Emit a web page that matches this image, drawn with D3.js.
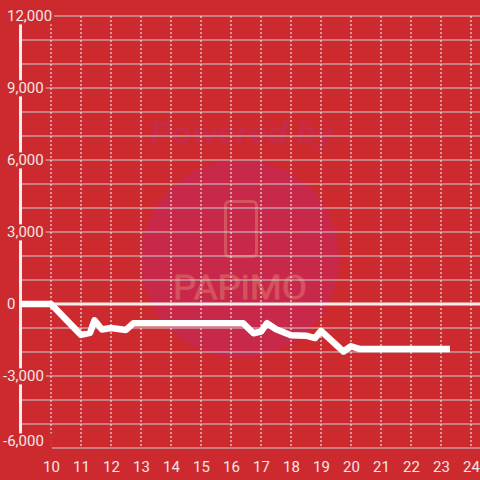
<!DOCTYPE html>
<html><head><meta charset="utf-8">
<script src="https://cdn.jsdelivr.net/npm/d3@7"></script>
<style>
html,body{margin:0;padding:0;background:#cc2a2f;}
svg{display:block;}
text{font-family:Roboto,"Noto Sans",sans-serif;}
</style></head>
<body><svg id="c" width="480" height="480"></svg>
<script>
// ---- data ----
const hours = [9.0, 10.0, 11.0, 11.3, 11.45, 11.7, 12.0, 12.5, 12.75, 16.4, 16.75, 17.0, 17.2, 17.5, 18.0, 18.5, 18.8, 19.0, 19.75, 20.0, 20.3, 23.3];
const values = [0, 0, -1290, -1200, -680, -1060, -1000, -1080, -800, -800, -1220, -1150, -800, -1050, -1300, -1320, -1420, -1120, -1980, -1760, -1880, -1880];
const xTicks = [10, 11, 12, 13, 14, 15, 16, 17, 18, 19, 20, 21, 22, 23, 24];
const yGrid = [-6000, -5000, -4000, -3000, -2000, -1000, 0, 1000, 2000, 3000, 4000, 5000, 6000, 7000, 8000, 9000, 10000, 11000, 12000];
const yLabels = [-6000, -3000, 0, 3000, 6000, 9000, 12000];

const W = 480, H = 480;
const svg = d3.select("#c");
const bg = "#cc2a2f";
svg.append("rect").attr("width", W).attr("height", H).attr("fill", bg);

const x = d3.scaleLinear().domain([9, 24.3]).range([21, 480]);
const y = d3.scaleLinear().domain([-6000, 12000]).range([448, 16]);

// watermark
const wm = svg.append("g");
wm.append("circle").attr("cx", 240).attr("cy", 259).attr("r", 99).attr("fill", "#c8284a");
wm.append("text").attr("x", 242).attr("y", 143).attr("text-anchor", "middle")
  .attr("font-size", 30).attr("font-weight", "bold").attr("font-style", "italic")
  .attr("textLength", 184).attr("lengthAdjust", "spacingAndGlyphs")
  .attr("fill", "#c62b47").text("Powered by");
wm.append("rect").attr("x", 225.5).attr("y", 201.5).attr("width", 31).attr("height", 55).attr("rx", 4)
  .attr("fill", "none").attr("stroke", "#d4535d").attr("stroke-width", 3);
wm.append("text").attr("x", 240).attr("y", 299).attr("text-anchor", "middle")
  .attr("font-size", 33).attr("font-family", "DejaVu Sans Mono")
  .attr("textLength", 134).attr("lengthAdjust", "spacingAndGlyphs")
  .attr("fill", "#d4535d").attr("stroke", "#d4535d").attr("stroke-width", 0.8).text("PAPiMO");

// horizontal grid
svg.append("g").selectAll("line").data(yGrid).join("line")
  .attr("x1", 20).attr("x2", W).attr("y1", d => y(d)).attr("y2", d => y(d))
  .attr("stroke", "#c9cfcf").attr("stroke-width", 1.2);

// vertical dashed grid
svg.append("g").selectAll("line").data(xTicks).join("line")
  .attr("x1", d => x(d)).attr("x2", d => x(d)).attr("y1", 16).attr("y2", 448)
  .attr("stroke", "#e8e4e0").attr("stroke-width", 1.2).attr("stroke-dasharray", "2,2");

// zero line
svg.append("line").attr("x1", 20).attr("x2", W).attr("y1", y(0)).attr("y2", y(0))
  .attr("stroke", "#f3efec").attr("stroke-width", 3.2);

// y axis line
svg.append("line").attr("x1", 20.5).attr("x2", 20.5).attr("y1", 16).attr("y2", 448)
  .attr("stroke", "#f3efec").attr("stroke-width", 3);

// data line
const line = d3.line().x((d, i) => x(hours[i])).y(d => y(d)).curve(d3.curveLinear);
svg.append("path").datum(values).attr("d", line)
  .attr("fill", "none").attr("stroke", "#ffffff").attr("stroke-width", 6.5)
  .attr("stroke-linejoin", "round").attr("stroke-linecap", "butt");

// y labels
const fmt = d3.format(",");
const yl = svg.append("g");
yLabels.forEach(v => {
  const g = yl.append("g");
  const yy = v === -6000 ? y(v) - 7 : y(v);
  const t = g.append("text").attr("x", v < 0 ? 3 : 7).attr("y", yy).attr("dy", "0.36em")
    .attr("font-size", 15).attr("fill", "#f1e6e4").text(v < 0 ? "-" + fmt(-v) : fmt(v));
  const bb = t.node().getBBox();
  const extra = v === -6000 ? 6 : 0;
  g.insert("rect", "text").attr("x", bb.x - 1).attr("y", bb.y + 1).attr("width", bb.width + 3 + extra).attr("height", bb.height - 2 + extra)
    .attr("fill", bg);
});

// x axis labels
const xa = svg.append("g").attr("transform", "translate(0,448)")
  .call(d3.axisBottom(x).tickValues(xTicks).tickSize(0).tickPadding(13).tickFormat(d3.format("d")));
xa.select(".domain").remove();
xa.selectAll("text").attr("font-size", 15).attr("fill", "#f1e6e4").attr("font-family", "Roboto, sans-serif");
</script></body></html>
